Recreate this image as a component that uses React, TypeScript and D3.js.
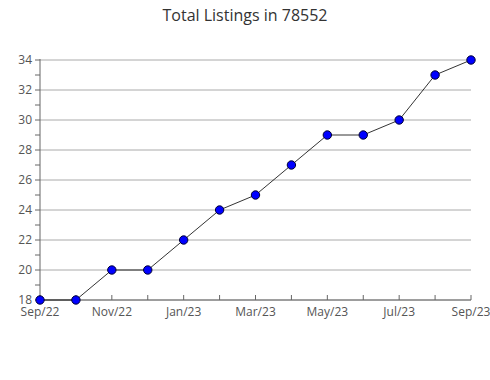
import React from "react";
import * as d3 from "d3";

const months = ["Sep/22","Oct/22","Nov/22","Dec/22","Jan/23","Feb/23","Mar/23","Apr/23","May/23","Jun/23","Jul/23","Aug/23","Sep/23"];
const values = [18, 18, 20, 20, 22, 24, 25, 27, 29, 29, 30, 33, 34];
const yTicks = [18, 20, 22, 24, 26, 28, 30, 32, 34];
const yMinorTicks = [19, 21, 23, 25, 27, 29, 31, 33];
const title = "Total Listings in 78552";

export default function App() {
  const W = 490, H = 380;
  const left = 40, right = 471, top = 60, bottom = 300;
  const x = d3.scaleLinear().domain([0, months.length - 1]).range([left, right]);
  const y = d3.scaleLinear().domain([18, 34]).range([bottom, top]);
  const line = d3.line<number>().x((_, i) => x(i)).y((d) => y(d));
  const font = "'Open Sans', 'Noto Sans', sans-serif";
  const axisColor = "#666";
  return (
    <svg width={W} height={H} style={{ position: "absolute", left: 0, top: 0 }}>
      <rect width={W} height={H} fill="#fff" />
      <text x={245} y={21} textAnchor="middle" fontFamily={font} fontSize={16} fill="#333">{title}</text>
      {yTicks.map((t) => (
        <g key={t}>
          <line x1={left} x2={right} y1={y(t)} y2={y(t)} stroke="#aaa" strokeWidth={1} />
          <line x1={left - 5} x2={left} y1={y(t)} y2={y(t)} stroke={axisColor} />
          <text x={left - 8} y={y(t) + 4} textAnchor="end" fontFamily={font} fontSize={12} fill="#555">{t}</text>
        </g>
      ))}
      {yMinorTicks.map((t) => (
        <line key={t} x1={left - 5} x2={left} y1={y(t)} y2={y(t)} stroke={axisColor} />
      ))}
      <line x1={left} x2={left} y1={top - 1} y2={bottom} stroke={axisColor} />
      <line x1={left} x2={right} y1={bottom} y2={bottom} stroke={axisColor} />
      {months.map((m, i) => (
        <g key={m}>
          <line x1={x(i)} x2={x(i)} y1={bottom - 5} y2={bottom} stroke={axisColor} />
          {i % 2 === 0 && (
            <text x={x(i)} y={bottom + 16} textAnchor="middle" fontFamily={font} fontSize={12} fill="#555">{m}</text>
          )}
        </g>
      ))}
      <path d={line(values) || ""} fill="none" stroke="#000" strokeWidth={0.8} />
      {values.map((v, i) => (
        <circle key={i} cx={x(i)} cy={y(v)} r={4.2} fill="#0000ff" stroke="#000033" strokeWidth={1} />
      ))}
    </svg>
  );
}
